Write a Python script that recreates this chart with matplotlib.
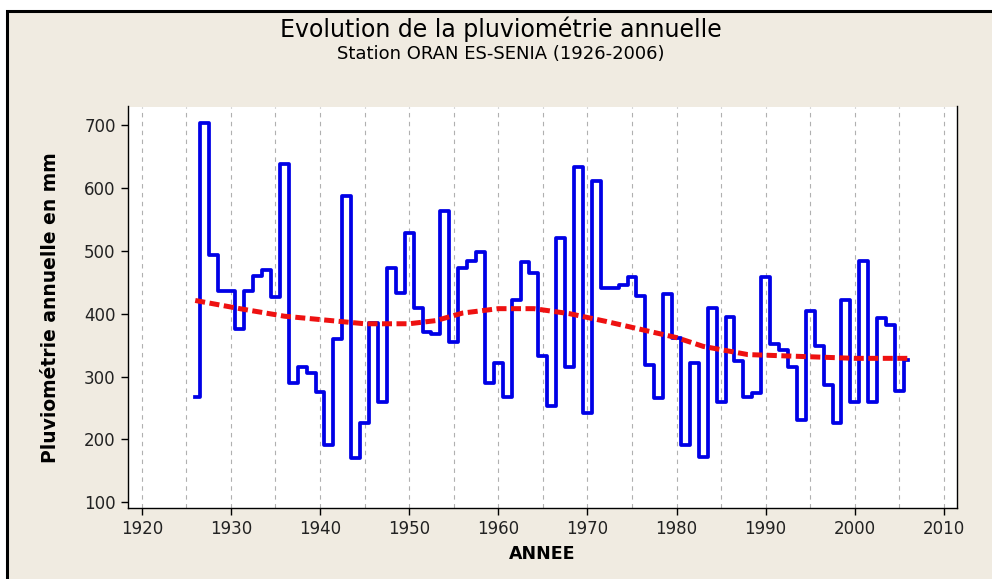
import numpy as np
import matplotlib
matplotlib.use('Agg')
import matplotlib.pyplot as plt
from matplotlib.patches import Rectangle

# pluviometrie annuelle Oran Es-Senia
annees = list(range(1926, 2007))
pluie = [267, 703, 494, 436, 436, 375, 436, 460, 470, 427,
         638, 290, 316, 305, 276, 191, 359, 587, 170, 226,
         385, 260, 473, 433, 529, 409, 371, 368, 563, 355,
         473, 483, 498, 290, 322, 267, 422, 482, 465, 332,
         254, 521, 316, 633, 242, 611, 441, 441, 446, 458,
         428, 319, 266, 432, 362, 191, 322, 172, 409, 259,
         395, 324, 267, 274, 458, 352, 342, 316, 231, 405,
         348, 287, 227, 422, 260, 484, 260, 393, 382, 277,
         326]

# courbe de tendance (lissage)
tend_annees = [1926, 1931, 1936, 1942, 1945, 1950, 1953, 1956, 1960, 1964,
               1968, 1972, 1976, 1980, 1983, 1988, 1994, 2000, 2006]
tend_valeurs = [421, 408, 396, 388, 384, 384, 389, 401, 408, 408,
                400, 388, 375, 362, 348, 335, 332, 329, 329]

x_ticks = list(range(1920, 2011, 10))
y_ticks = list(range(100, 701, 100))

fig = plt.figure(figsize=(9.92, 5.79), dpi=100)
fig.patch.set_facecolor('white')

# cadre beige avec bord noir
cadre = Rectangle((7 / 992, -0.1), 1.2, (579 - 11) / 579 + 0.1,
                  transform=fig.transFigure, facecolor='#f0ebe1',
                  edgecolor='black', linewidth=2.2, zorder=-10)
fig.patches.append(cadre)

ax = fig.add_axes([127.5 / 992, 1 - 508.3 / 579, (957.3 - 127.5) / 992, (508.3 - 106.5) / 579])
ax.set_zorder(1)
ax.set_facecolor('white')

for g in range(1920, 2011, 5):
    ax.axvline(g, color='#b0b0b0', lw=0.8, dashes=(4, 4), zorder=1)

ax.step(annees, pluie, where='mid', color='#0000e6', lw=2.7, zorder=3)
ax.plot(tend_annees, tend_valeurs, color='#ee1111', lw=3.6, dashes=(2, 0.9), zorder=4)

ax.set_xlim(1918.4, 2011.5)
ax.set_ylim(90.6, 729.4)
ax.set_xticks(x_ticks)
ax.set_yticks(y_ticks)
ax.tick_params(axis='both', direction='out', length=5, width=1, labelsize=12,
               colors='black', labelcolor='#222222')
ax.spines['top'].set_visible(False)
for s in ['left', 'bottom', 'right']:
    ax.spines[s].set_color('black')
    ax.spines[s].set_linewidth(1)

ax.set_xlabel('ANNEE', fontsize=12.5, fontweight='bold', labelpad=5)
ax.set_ylabel('Pluviométrie annuelle en mm', fontsize=13.5, fontweight='bold', labelpad=17)

fig.text(501 / 992, 1 - 29 / 579, 'Evolution de la pluviométrie annuelle',
         ha='center', va='center', fontsize=17)
fig.text(501 / 992, 1 - 54 / 579, 'Station ORAN ES-SENIA (1926-2006)',
         ha='center', va='center', fontsize=13)

fig.savefig('out.png', dpi=100, facecolor=fig.get_facecolor())
